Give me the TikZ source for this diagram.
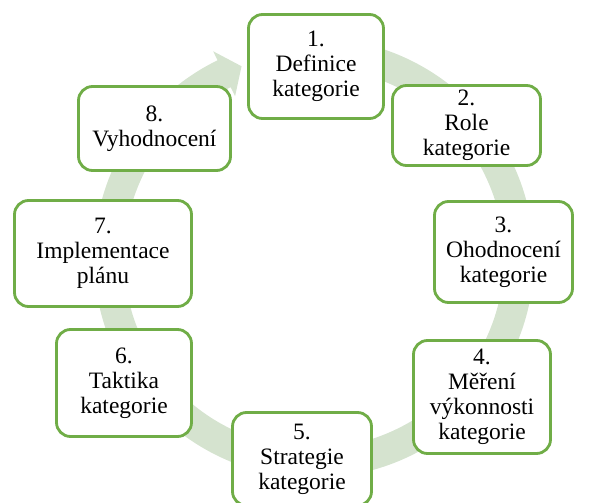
\documentclass[tikz,border=0pt]{standalone}
\usepackage{fontspec}
\setmainfont{LiberationSerif}[Extension=.ttf, UprightFont=*-Regular, BoldFont=*-Bold]
\definecolor{stagegreen}{HTML}{70AD47}
\definecolor{ringgreen}{HTML}{D5E3CF}
\begin{document}
\begin{tikzpicture}[x=1pt,y=-1pt,
  stage/.style={draw=stagegreen, line width=2.8pt, rounded corners=14pt,
    fill=white, align=center, inner sep=0pt,
    font=\rmfamily\fontsize{23.5}{25}\selectfont}]
\useasboundingbox (0,0) rectangle (590,503);
% circular arrow running clockwise behind the stages
\begin{scope}[shift={(314,258)}, yscale=-1]
  \fill[ringgreen] (100:220) arc[start angle=100, end angle=-244, radius=220]
    -- (-244:230) -- (-249.3:205) -- (-244:180) -- (-244:190)
    arc[start angle=-244, end angle=100, radius=190] -- cycle;
\end{scope}
% stages of the category management cycle
\node[stage, minimum width=135pt, minimum height=104pt] (s1) at (316,66.5) {1.\\Definice\\kategorie};
\node[stage, minimum width=148pt, minimum height=80pt] (s2) at (466.5,125.5) {2.\\Role\\kategorie};
\node[stage, minimum width=138pt, minimum height=101pt] (s3) at (503.5,252) {3.\\Ohodnocení\\kategorie};
\node[stage, minimum width=137pt, minimum height=113pt] (s4) at (482,397) {4.\\Měření\\výkonnosti\\kategorie};
\node[stage, minimum width=139pt, minimum height=93pt] (s5) at (302,459) {5.\\Strategie\\kategorie};
\node[stage, minimum width=135pt, minimum height=107pt] (s6) at (124,383) {6.\\Taktika\\kategorie};
\node[stage, minimum width=177pt, minimum height=106pt] (s7) at (103,253.5) {7.\\Implementace\\plánu};
\node[stage, minimum width=152pt, minimum height=84pt] (s8) at (154.5,128.5) {8.\\Vyhodnocení};
\end{tikzpicture}
\end{document}
